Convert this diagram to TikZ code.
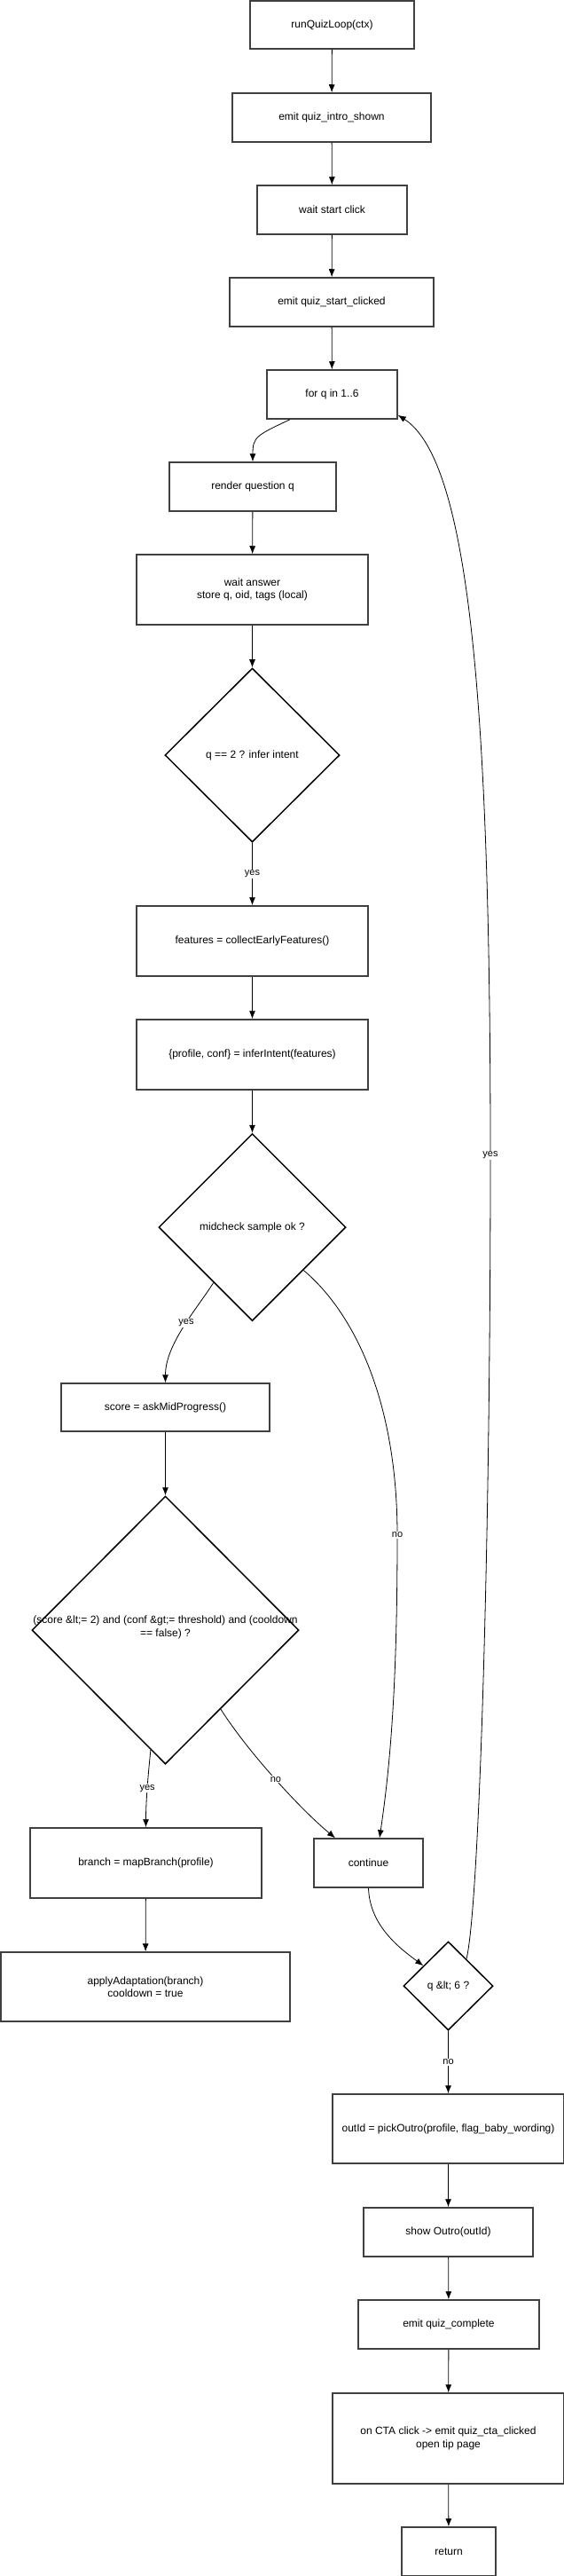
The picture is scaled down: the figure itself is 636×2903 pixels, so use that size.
\documentclass[tikz,border=0pt]{standalone}
\usepackage{fontspec}
\setmainfont{Liberation Sans}
\usetikzlibrary{shapes.geometric,arrows.meta}

\begin{document}
\begin{tikzpicture}[x=1pt,y=-1pt,every node/.style={font=\fontsize{12}{14.5}\selectfont,align=center,inner sep=2pt}]
\tikzstyle{block}=[draw=black!75,line width=1.5pt,fill=white,minimum height=55pt]
\tikzstyle{decision}=[draw,diamond,line width=1.5pt,inner sep=0pt,aspect=1]
\tikzstyle{flow}=[-{Latex[length=9pt,width=7pt]},line width=0.8pt]
\tikzstyle{lbl}=[fill=white,font=\fontsize{11}{13}\selectfont,inner sep=1pt]

\useasboundingbox (0,0) rectangle (636,2903);

% main column
\node (start) [block,minimum width=185pt,minimum height=54pt] at (374.5,28) {runQuizLoop(ctx)};
\node (intro) [block,minimum width=224pt] at (374,132.5) {emit quiz\_intro\_shown};
\node (waitstart) [block,minimum width=169pt] at (374.5,236.5) {wait start click};
\node (clicked) [block,minimum width=230pt] at (374,340.5) {emit quiz\_start\_clicked};
\node (forq) [block,minimum width=147pt] at (374.5,444.5) {for q in 1..6};

\node (render) [block,minimum width=188pt] at (285,548.5) {render question q};
\node (answer) [block,minimum width=261pt,minimum height=79pt] at (284.5,664.5) {wait answer\\store q, oid, tags (local)};
\node (isq2) [decision,minimum width=197pt,minimum height=196pt] at (284.5,851) {q == 2 ? infer intent};
\node (features) [block,minimum width=261pt,minimum height=79pt] at (284.5,1060.5) {features = collectEarlyFeatures()};
\node (infer) [block,minimum width=261pt,minimum height=79pt] at (284.5,1188.5) {\{profile, conf\} = inferIntent(features)};
\node (midcheck) [decision,minimum width=211pt,minimum height=211pt] at (284.5,1383) {midcheck sample ok ?};

% adaptation branch
\node (score) [block,minimum width=235pt,minimum height=54pt] at (186.5,1586) {score = askMidProgress()};
\node (gate) [decision,minimum width=301pt,minimum height=302pt] at (186.5,1837)
  {\smash{\makebox[0pt]{\begin{tabular}{@{}c@{}}(score \&lt;= 2) and (conf \&gt;= threshold) and (cooldown\\== false) ?\end{tabular}}}};
\node (branch) [block,minimum width=261pt,minimum height=79pt] at (164.5,2099.5) {branch = mapBranch(profile)};
\node (adapt) [block,minimum width=326pt,minimum height=78pt] at (164,2239) {applyAdaptation(branch)\\cooldown = true};

% loop end
\node (cont) [block,minimum width=123pt] at (415.5,2099.5) {continue};
\node (more) [decision,minimum width=101pt,minimum height=100pt] at (505.5,2238) {q \&lt; 6 ?};

% outro
\node (outro) [block,minimum width=261pt,minimum height=78pt] at (505.5,2399) {outId = pickOutro(profile, flag\_baby\_wording)};
\node (show) [block,minimum width=191pt] at (505.5,2515.5) {show Outro(outId)};
\node (complete) [block,minimum width=204pt] at (506,2619.5) {emit quiz\_complete};
\node (cta) [block,minimum width=261pt,minimum height=102pt] at (505.5,2748) {on CTA click -> emit quiz\_cta\_clicked\\open tip page};
\node (ret) [block,minimum width=106pt] at (506,2875.5) {return};

\draw [flow] (start) -- (intro);
\draw [flow] (intro) -- (waitstart);
\draw [flow] (waitstart) -- (clicked);
\draw [flow] (clicked) -- (forq);
\draw [flow] ([xshift=-47.5pt]forq.south) .. controls +(-38,18) and +(0,-28) .. (render.north);
\draw [flow] (render) -- (answer);
\draw [flow] (answer) -- (isq2);
\draw [flow] (isq2) -- node[lbl]{yes} (features);
\draw [flow] (features) -- (infer);
\draw [flow] (infer) -- (midcheck);

\draw [flow] (midcheck.-125) .. controls (222,1475) and (186.5,1515) .. node[lbl,pos=0.45]{yes} (score.north);
\draw [flow] (midcheck.-40) .. controls (400,1480) and (448,1580) .. (448,1730) node[lbl]{no}
  .. controls (448,1900) and (440,1990) .. ([xshift=12.5pt]cont.north);
\draw [flow] (score) -- (gate);
\draw [flow] (gate.-97) .. controls (167,2000) and (164.5,2030) .. node[lbl]{yes} (branch.north);
\draw [flow] (gate.-55) .. controls (280,1975) and (340,2040) .. node[lbl]{no} ([xshift=-37.5pt]cont.north);
\draw [flow] (branch) -- (adapt);

\draw [flow] (cont.south) .. controls (417,2170) and (450,2195) .. (more.141);
\draw [flow] (more.56) .. controls (540,2150) and (553,1750) .. (553,1302) node[lbl]{yes}
  .. controls (553,800) and (530,520) .. ([yshift=5pt]forq.south east);
\draw [flow] (more) -- node[lbl]{no} (outro);
\draw [flow] (outro) -- (show);
\draw [flow] (show) -- (complete);
\draw [flow] (complete) -- (cta);
\draw [flow] (cta) -- (ret);
\end{tikzpicture}
\end{document}
